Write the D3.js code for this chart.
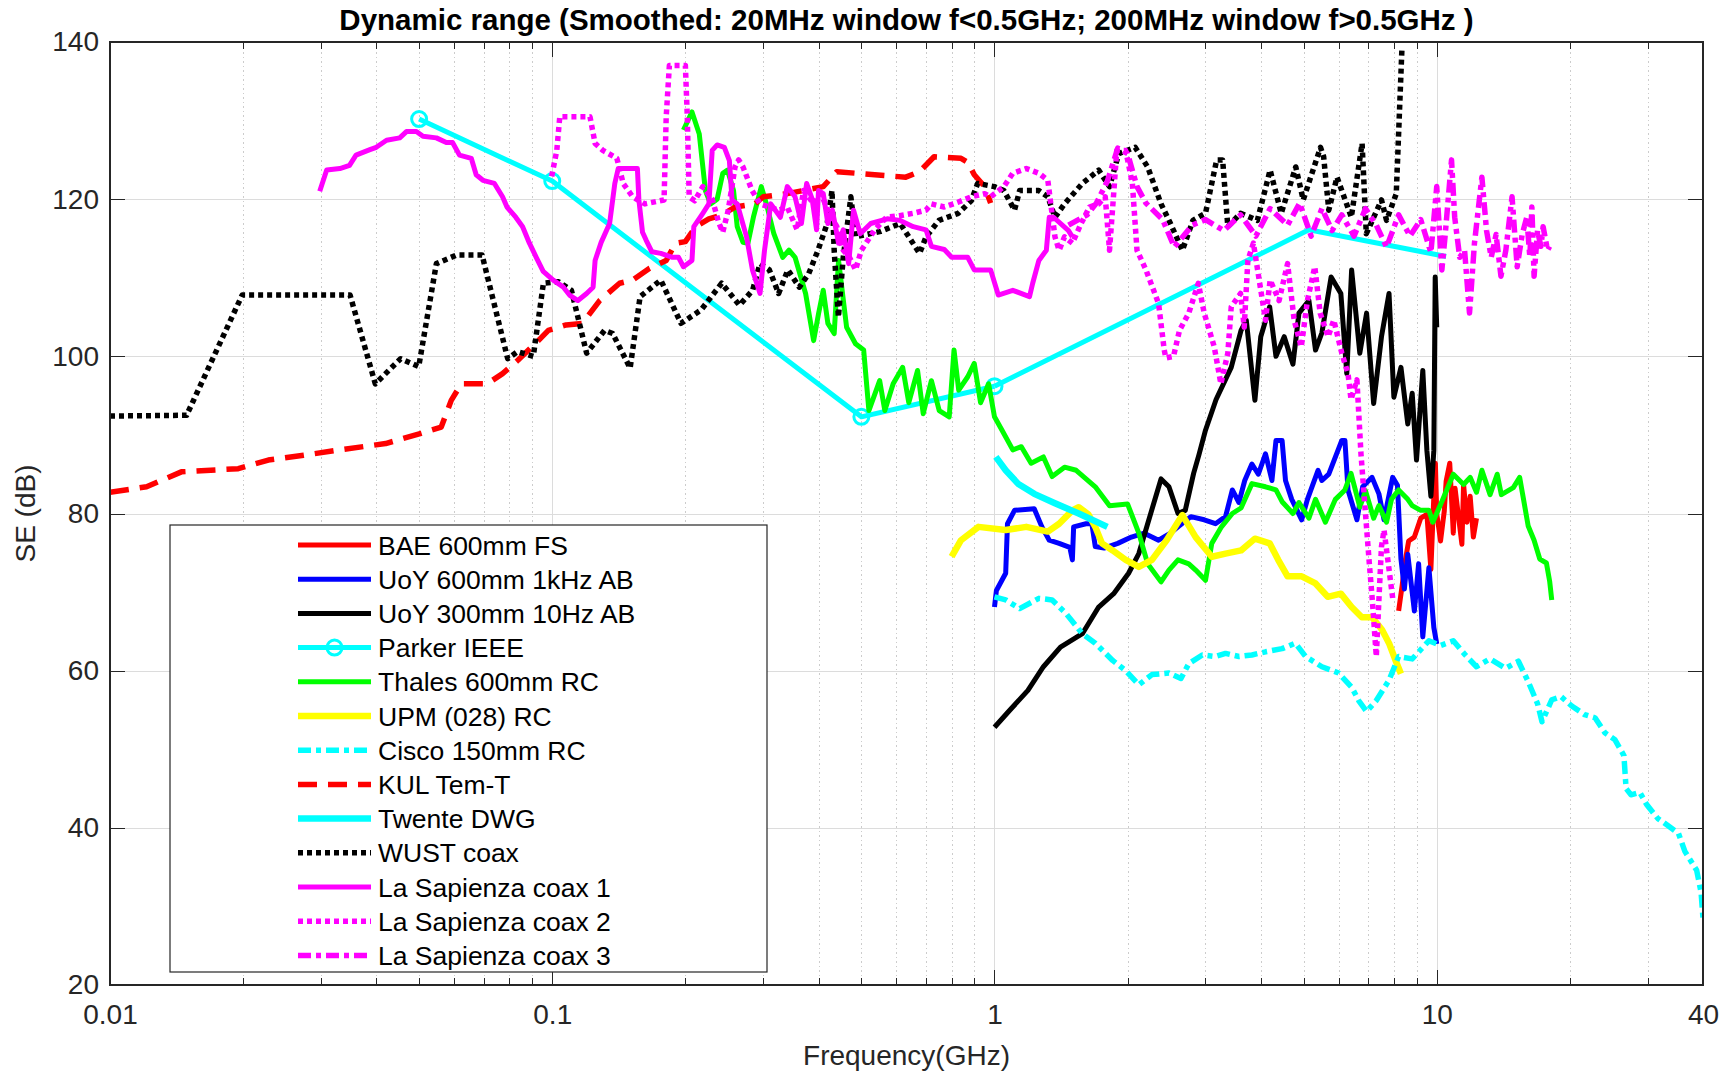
<!DOCTYPE html>
<html lang="en">
<head>
<meta charset="utf-8">
<title>Dynamic range</title>
<script src="https://d3js.org/d3.v7.min.js"></script>
<style>
    body {
        margin: 0;
        padding: 0;
        background-color: white;
    }
    svg {
        display: block;
        background-color: white;
        font-family: "Liberation Sans", Arial, Helvetica, sans-serif;
    }
    .title {
        font-size: 29.5px;
        font-weight: bold;
        fill: #000;
    }
    .axis text {
        font-size: 28px;
        fill: #262626;
    }
    .axis path {
        display: none;
    }
    .axis line {
        stroke: #262626;
        stroke-width: 1px;
        shape-rendering: crispEdges;
    }
    .grid path {
        display: none;
    }
    .grid line {
        stroke: #dcdcdc;
        stroke-width: 1px;
        shape-rendering: crispEdges;
    }
    .grid.minor line {
        stroke: #cccccc;
        stroke-dasharray: 1.5,3;
    }
    .label {
        font-size: 28px;
        fill: #262626;
    }
    .legend text {
        font-size: 26.5px;
        fill: #000;
    }
</style>
</head>
<body>
<div id="chart"></div>
<script>

// ---- data: [frequency GHz, SE dB] ----
var baeData = [[8.2,67.6],[8.35,70.8],[8.5,74.2],[8.64,76.5],[8.9,77],[9.2,79.4],[9.5,79.9],[9.7,72.9],[9.85,82.2],[9.93,86.4],
    [10.0,80],[10.2,76.5],[10.4,80.3],[10.5,84.1],[10.7,86.4],[10.9,77.5],[11.0,83.2],[11.4,76.1],[11.5,83.7],[11.7,78.9],
    [11.9,82.2],[12.1,77],[12.3,79.4]];

var uoy600Data = [[1.0,68.1],[1.01,70.2],[1.06,72.4],[1.07,78.7],[1.11,80.4],[1.23,80.6],[1.28,78.3],[1.33,76.6],[1.4,76.2],
    [1.48,75.7],[1.5,74.1],[1.51,78.3],[1.61,78.7],[1.66,78.7],[1.69,75.8],[1.77,75.6],[1.9,76.2],[2.04,77.0],[2.18,77.5],
    [2.35,76.6],[2.5,77.5],[2.6,78.3],[2.78,79.6],[2.98,79.2],[3.16,78.7],[3.33,79.6],[3.45,83],[3.57,81.4],[3.68,84.2],
    [3.82,86.3],[3.95,85],[4.1,87.6],[4.24,84.2],[4.33,89.3],[4.47,89.3],[4.55,84.2],[4.7,81.8],[4.95,79.2],[5.1,81.8],
    [5.39,85.5],[5.5,84.2],[5.7,85],[6.1,89.3],[6.2,89.3],[6.3,83],[6.6,79.2],[6.8,83.4],[7.14,84.6],[7.4,82.5],[7.6,79.2],
    [7.95,84.6],[8.15,83.6],[8.3,74.2],[8.45,70.4],[8.6,74.8],[8.9,67.6],[9.1,73.6],[9.3,64.3],[9.6,73.1],[9.85,65.5],[10.0,63.4]];

var uoy300Data = [[1.0,52.8],[1.08,54.9],[1.19,57.5],[1.29,60.5],[1.41,63.0],[1.58,64.7],[1.72,68.1],[1.86,69.8],[2.01,72.4],
    [2.12,74.9],[2.22,78.7],[2.38,84.4],[2.48,83.4],[2.6,80.0],[2.7,80.4],[2.82,85.1],[2.9,87.5],[3.0,90.6],[3.17,94.5],
    [3.43,98.6],[3.61,103.3],[3.71,104.6],[3.88,94.4],[4.0,102.5],[4.19,106.3],[4.33,100],[4.52,102.5],[4.73,99],[4.88,105.5],
    [5.14,107.1],[5.32,100.8],[5.5,103],[5.77,110.1],[6.07,108],[6.26,97.8],[6.42,111],[6.7,100.4],[6.94,105.5],[7.2,94],
    [7.5,102.5],[7.8,108],[8.0,94.8],[8.3,98.6],[8.6,91.4],[8.8,95.3],[9.0,86.8],[9.3,98.2],[9.5,88],[9.7,82.2],[9.85,88],
    [9.92,110.1],[10.0,103.7]];

// Parker: measured points (with markers) and the unmarked extension above 1 GHz
var parkerData = [[0.05,130.2],[0.1,122.3],[0.5,92.3],[1.0,96.2]];
var parkerExtData = [[1.0,96.2],[5.14,116.1],[10.5,112.7]];

var thalesData = [[0.198,128.8],[0.207,131.1],[0.215,128.3],[0.222,121.1],[0.228,119.4],[0.236,120],[0.243,123.3],[0.249,123.7],
    [0.257,121.1],[0.262,116.5],[0.27,114.5],[0.277,114.4],[0.285,117.7],[0.297,121.6],[0.305,119.4],[0.317,115.6],[0.332,112.6],
    [0.343,113.5],[0.354,112.6],[0.374,108],[0.39,102],[0.40,105.4],[0.41,108.4],[0.42,104.2],[0.434,102.9],[0.444,112.2],
    [0.463,103.7],[0.485,101.6],[0.506,100.8],[0.52,93.1],[0.55,96.9],[0.565,93.1],[0.59,96.5],[0.62,98.6],[0.64,94.1],
    [0.67,98.2],[0.69,92.7],[0.72,96.9],[0.75,93.1],[0.79,92.3],[0.81,100.8],[0.83,95.7],[0.87,97.4],[0.9,99.1],[0.93,94.1],
    [0.97,96.5],[1.0,92.3],[1.04,90.6],[1.1,88.1],[1.15,88.5],[1.21,86.4],[1.29,87.2],[1.35,84.7],[1.44,85.9],[1.53,85.5],
    [1.69,83.4],[1.82,81],[2.0,81.2],[2.12,77.5],[2.22,73.6],[2.38,71.3],[2.48,72.8],[2.6,74.1],[2.75,73.6],[2.85,72.8],
    [3.0,71.5],[3.1,76.2],[3.26,78.3],[3.45,80],[3.61,80.7],[3.82,83.8],[4.1,83.4],[4.33,83],[4.47,81.5],[4.73,80],[4.88,81.4],
    [5.14,79.4],[5.32,81.8],[5.6,78.9],[5.9,81.8],[6.2,83],[6.4,85.1],[6.7,80.8],[6.9,82.9],[7.2,79.4],[7.4,81],[7.7,78.9],
    [7.9,81.8],[8.2,83],[8.6,81.8],[8.8,81],[9.2,80.4],[9.6,80.4],[9.8,78.9],[10.3,81.7],[10.9,85],[11.5,83.7],[11.9,84.6],
    [12.3,82.7],[12.65,85.5],[13.2,82.4],[13.7,85],[14.0,82.4],[14.9,83.3],[15.4,84.6],[16.1,78.4],[16.6,76.6],[17.1,74.2],
    [17.7,73.7],[18.0,71.4],[18.2,69]];

var upmData = [[0.8,74.5],[0.84,76.6],[0.92,78.3],[1.06,77.9],[1.18,78.3],[1.32,77.7],[1.4,78.7],[1.5,80.4],[1.55,80.8],
    [1.63,79.9],[1.69,78.3],[1.75,76.2],[1.85,75.3],[1.98,74.1],[2.12,73.2],[2.27,74.1],[2.45,76.6],[2.66,79.8],[2.85,77],
    [3.1,74.5],[3.33,74.9],[3.61,75.3],[3.88,76.8],[4.19,76.2],[4.38,74.1],[4.6,72],[4.95,72],[5.32,71.1],[5.67,69.4],
    [6.07,69.8],[6.42,68.1],[6.77,66.8],[7.14,66.8],[7.52,65.2],[7.8,63.5],[8.07,61.3],[8.3,59.6]];

var ciscoData = [[1.0,69.4],[1.06,69.0],[1.14,67.9],[1.26,69.2],[1.35,69.0],[1.45,67.3],[1.58,64.7],[1.69,63.5],[1.85,61.3],
    [1.98,60.0],[2.12,58.2],[2.27,59.5],[2.48,59.7],[2.64,59.0],[2.75,60.9],[2.95,62.0],[3.16,61.8],[3.33,62.2],[3.57,61.8],
    [3.82,62.0],[4.1,62.4],[4.47,62.8],[4.79,63.5],[5.05,61.8],[5.5,60.5],[6.0,59.7],[6.42,57.9],[6.66,56.2],[6.94,54.8],
    [7.3,56.2],[7.8,58.8],[8.2,61.8],[8.8,61.5],[9.6,63.8],[10.2,63.2],[10.9,63.8],[11.6,62],[12.3,60.5],[13.2,61.5],
    [14.3,60.3],[15.3,61.2],[16.1,58.6],[16.9,55.8],[17.3,53.5],[18.2,56.3],[19.1,56.7],[20.2,55.5],[21.6,54.4],[22.8,54],
    [24.0,52.1],[25.3,51.2],[26.5,49.2],[26.8,45],[27.5,44.2],[28.8,44.5],[29.8,43],[31.6,41.2],[33.3,40.3],[35.2,39.3],
    [36.4,37],[38.7,34.6],[39.6,31.8],[40,28.5]];

var kulData = [[0.01,82.7],[0.0121,83.4],[0.0145,85.3],[0.0195,85.7],[0.0228,86.8],[0.0274,87.4],[0.0331,88.1],[0.042,88.9],
    [0.0505,90.2],[0.0561,91.0],[0.0591,94.4],[0.0623,96.5],[0.0713,96.5],[0.0772,97.8],[0.0836,99.5],[0.093,102.0],[0.098,103.3],
    [0.1075,104],[0.117,104.2],[0.128,107.1],[0.142,109.3],[0.152,109.7],[0.166,111.2],[0.181,112.2],[0.19,114.4],[0.2,114.6],
    [0.211,116.5],[0.226,117.5],[0.242,118],[0.259,119],[0.287,119.4],[0.30,120.3],[0.34,120.7],[0.41,121.6],[0.44,123.5],
    [0.536,123.1],[0.63,122.8],[0.677,123.5],[0.73,125.4],[0.84,125.2],[0.87,124.7],[0.90,123.1],[0.95,121.6],[0.98,119.5]];

var twenteData = [[1.007,87.2],[1.06,85.5],[1.13,83.8],[1.23,82.5],[1.37,81.3],[1.55,80],[1.80,78.3]];

var wustData = [[0.01,92.4],[0.0149,92.5],[0.0199,107.8],[0.0349,107.8],[0.0398,96.5],[0.0454,99.7],[0.0499,98.7],[0.0547,111.8],
    [0.0608,112.9],[0.0694,112.9],[0.0793,99.7],[0.0835,100.6],[0.0906,100],[0.0955,109.3],[0.1033,109.5],[0.1105,108.4],
    [0.1196,100.4],[0.1313,103.3],[0.137,102.9],[0.150,98.5],[0.158,107.6],[0.176,109.7],[0.1955,104.2],[0.217,105.9],
    [0.2416,109.3],[0.265,106.5],[0.2838,108.4],[0.295,111.8],[0.3097,111],[0.325,108],[0.341,111],[0.362,108.8],[0.38,110.5],
    [0.399,113.5],[0.4185,116.9],[0.4291,121.1],[0.434,113.5],[0.4437,105],[0.455,112.6],[0.4734,120.3],[0.485,115.2],
    [0.5528,115.9],[0.612,116.9],[0.677,113.1],[0.70,115.2],[0.749,117.3],[0.828,118.2],[0.886,119.8],[0.916,122],[0.999,121.6],
    [1.05,121.1],[1.11,118.6],[1.14,121.1],[1.259,121.1],[1.32,120.3],[1.37,117.7],[1.44,119.4],[1.58,122],[1.72,123.7],
    [1.82,121.6],[1.91,125.8],[2.08,126.6],[2.22,124.1],[2.38,119.4],[2.5,116.9],[2.66,113.5],[2.81,117.3],[3.0,118.2],
    [3.18,125],[3.28,125],[3.37,116.5],[3.6,118.2],[3.93,117.3],[4.2,123.7],[4.45,118.2],[4.8,124.1],[4.99,119.9],[5.46,126.6],
    [5.55,125.4],[5.7,118.6],[5.95,122.8],[6.41,117.7],[6.78,127.1],[6.93,115.6],[7.5,119.9],[7.7,117.3],[8.1,120.7],[8.34,139]];

var sapienza1Data = [[0.0298,121],[0.0309,123.7],[0.0331,123.9],[0.0348,124.3],[0.036,125.6],[0.0387,126.3],[0.04,126.6],
    [0.0422,127.5],[0.0452,127.8],[0.0468,128.6],[0.0493,128.6],[0.051,128],[0.0547,127.8],[0.0576,127.2],[0.0595,127.2],
    [0.0617,125.6],[0.0656,125.2],[0.0673,123.1],[0.0697,122.4],[0.074,122],[0.0772,120.3],[0.079,119],[0.0827,117.7],
    [0.0857,116.5],[0.0888,114.4],[0.092,112.6],[0.0954,110.8],[0.1005,109.7],[0.106,108.8],[0.1094,107.8],[0.1143,107.1],
    [0.1196,108],[0.1237,108.8],[0.125,112.2],[0.129,114.5],[0.1348,116.9],[0.1385,122],[0.141,123.9],[0.1558,123.9],
    [0.157,119.9],[0.16,115.8],[0.163,114.8],[0.168,113.3],[0.176,113.1],[0.187,112.6],[0.193,112.6],[0.198,111.4],
    [0.207,112.2],[0.209,116.5],[0.219,118.2],[0.226,119.4],[0.23,126.2],[0.236,126.9],[0.245,126.6],[0.2515,124.9],
    [0.255,119.9],[0.262,119.4],[0.275,115.2],[0.2836,111],[0.295,108],[0.302,113.5],[0.312,119.4],[0.328,117.7],[0.34,121.6],
    [0.354,120.3],[0.366,116.9],[0.376,122],[0.387,120],[0.396,116.1],[0.40,121.1],[0.41,120.7],[0.42,116.9],[0.43,118.6],
    [0.444,114.4],[0.455,116.1],[0.468,111.8],[0.48,118.6],[0.497,115.6],[0.525,116.9],[0.572,117.5],[0.612,117.3],
    [0.655,116.5],[0.70,116.1],[0.72,114],[0.77,113.6],[0.80,112.6],[0.87,112.6],[0.9,111],[0.98,111],[1.02,107.8],
    [1.1,108.4],[1.2,107.6],[1.22,109.3],[1.26,112.2],[1.31,113.5],[1.33,117.7],[1.36,117.7],[1.47,116],[1.5,115.2]];

var sapienza2Data = [[0.0997,122.9],[0.1024,126.2],[0.104,130.5],[0.1217,130.5],[0.125,127.1],[0.1302,126.2],[0.14,125.2],
    [0.1447,122],[0.152,120.3],[0.162,119.4],[0.179,119.9],[0.181,130.5],[0.184,137],[0.20,137],[0.202,130.5],[0.204,120.3],
    [0.21,119.8],[0.219,121.6],[0.23,120],[0.238,117],[0.243,115.8],[0.25,118.6],[0.259,124.1],[0.264,125],[0.27,124.1],
    [0.283,121.1],[0.295,119.4],[0.31,119],[0.325,118.6],[0.34,119],[0.358,116.1],[0.37,121.1],[0.39,119.4],[0.405,120.7],
    [0.42,118.6],[0.44,116.5],[0.455,113.5],[0.47,112.6],[0.485,111],[0.50,113.5],[0.536,116.1],[0.57,117.7],[0.61,117.9],
    [0.655,118.2],[0.70,118.6],[0.72,119.4],[0.77,119],[0.826,119.6],[0.886,120.3],[0.95,120.7],[0.98,120.3],[1.05,121.6],
    [1.1,123.3],[1.18,123.9],[1.26,123.3],[1.32,122.4],[1.37,115.2],[1.4,113.5],[1.44,115.2],[1.5,114.4],[1.57,116.9],
    [1.64,119],[1.72,119.4],[1.78,120.3],[1.82,113.5],[1.86,120.7],[1.89,126.2],[1.98,126.2],[2.05,122],[2.1,113.5],[2.2,111],
    [2.29,108.4],[2.35,106.7],[2.42,100.8],[2.44,99.8],[2.54,100],[2.62,103.3],[2.75,105.5],[2.89,109.3],[2.98,105.5],
    [3.14,101.2],[3.25,96.5],[3.37,100.4],[3.43,106.3],[3.6,108],[3.67,103.7],[3.74,112.2],[3.85,114.4],[4.1,104.6],[4.2,109.7],
    [4.4,107.1],[4.6,111.8],[4.76,104.6],[4.94,101.2],[5.1,107.1],[5.3,111.4],[5.45,105.5],[5.68,102.5],[5.85,104.6],
    [6.1,100.4],[6.3,97.8],[6.4,94.5],[6.6,97],[6.74,87.6],[6.9,80],[7.05,73.2],[7.15,69],[7.3,61.8],[7.4,69],[7.5,75.8],
    [7.6,77.9],[7.96,69]];

var sapienza3Data = [[1.47,116.7],[1.62,118],[1.7,119.5],[1.8,122.3],[1.9,126.5],[2.0,125.8],[2.1,121.6],[2.2,119.5],[2.4,117.4],
    [2.55,113.9],[2.8,116.7],[3.0,117.4],[3.3,116],[3.6,118],[3.9,115.3],[4.2,118.8],[4.6,116.7],[4.9,119.5],[5.2,115.3],
    [5.5,118.8],[5.8,116],[6.1,118],[6.5,115.3],[6.9,118.8],[7.3,116.7],[7.7,113.9],[8.2,118],[8.7,115.3],[9.2,117.4],
    [9.7,113.2],[10.0,121.6],[10.27,111],[10.44,115.2],[10.8,125],[10.98,117.7],[11.27,112.6],[11.56,113.5],[11.86,105.5],
    [12.17,114.4],[12.65,122.8],[12.96,116],[13.28,112.6],[13.62,115.5],[13.97,110.2],[14.33,113.5],[14.8,120.3],[15.2,111.4],
    [15.6,115.5],[15.98,117.7],[16.24,112.6],[16.41,119],[16.6,110.2],[16.9,116],[17.2,114],[17.4,116.5],[17.8,113.5],[18.0,114]];

// tick labels
var xTickValues = [0.01, 0.1, 1, 10, 40];
var xTickLabels = ["0.01", "0.1", "1", "10", "40"];
var yTickValues = [20, 40, 60, 80, 100, 120, 140];

var legendNames = ["BAE 600mm FS", "UoY 600mm 1kHz AB", "UoY 300mm 10Hz AB", "Parker IEEE", "Thales 600mm RC",
    "UPM (028) RC", "Cisco 150mm RC", "KUL Tem-T", "Twente DWG", "WUST coax", "La Sapienza coax 1",
    "La Sapienza coax 2", "La Sapienza coax 3"];

// ---- styling of each series (kept apart from the values) ----
var dotted = "5,4";
var dashed = "19,11";
var dashDot = "13,5,5,5";

var series = [
    {data: baeData,       color: "#ff0000", dash: null,    width: 5},
    {data: uoy600Data,    color: "#0000ff", dash: null,    width: 5},
    {data: uoy300Data,    color: "#000000", dash: null,    width: 5},
    {data: parkerData,    color: "#00ffff", dash: null,    width: 5, marker: true, ext: parkerExtData},
    {data: thalesData,    color: "#00ff00", dash: null,    width: 5},
    {data: upmData,       color: "#ffff00", dash: null,    width: 6.5},
    {data: ciscoData,     color: "#00ffff", dash: dashDot, width: 5.5},
    {data: kulData,       color: "#ff0000", dash: dashed,  width: 5.5},
    {data: twenteData,    color: "#00ffff", dash: null,    width: 6.5},
    {data: wustData,      color: "#000000", dash: dotted,  width: 5.5},
    {data: sapienza1Data, color: "#ff00ff", dash: null,    width: 5},
    {data: sapienza2Data, color: "#ff00ff", dash: dotted,  width: 5.5},
    {data: sapienza3Data, color: "#ff00ff", dash: dashDot, width: 5.5}
];
series.forEach(function(s, i){ s.name = legendNames[i]; });

// ---- layout ----
var width = 1721;
var height = 1072;
var plot = {left: 110, right: 1703, top: 42, bottom: 985};
var markerR = 7.5;

var svg = d3.select("#chart")
    .append("svg")
    .attr("width", width)
    .attr("height", height);

var x = d3.scaleLog()
    .domain([0.01, 40])
    .range([plot.left, plot.right]);

var y = d3.scaleLinear()
    .domain([20, 140])
    .range([plot.bottom, plot.top]);

var plotH = plot.bottom - plot.top;
var plotW = plot.right - plot.left;

// minor log ticks between the decades
var minorX = [];
[0.01, 0.1, 1, 10].forEach(function(dec){
    for (var k = 2; k <= 9; k++) {
        var v = dec * k;
        if (v < 40) minorX.push(v);
    }
});
var majorGridX = [0.1, 1, 10];

// grid lines
svg.append("g")
    .attr("class", "grid minor")
    .attr("transform", "translate(0," + plot.bottom + ")")
    .call(d3.axisBottom(x).tickValues(minorX).tickSize(-plotH).tickFormat(""));

svg.append("g")
    .attr("class", "grid")
    .attr("transform", "translate(0," + plot.bottom + ")")
    .call(d3.axisBottom(x).tickValues(majorGridX).tickSize(-plotH).tickFormat(""));

svg.append("g")
    .attr("class", "grid")
    .attr("transform", "translate(" + plot.left + ",0)")
    .call(d3.axisLeft(y).tickValues(yTickValues.slice(1, -1)).tickSize(-plotW).tickFormat(""));

// data lines
svg.append("clipPath")
    .attr("id", "plotClip")
    .append("rect")
    .attr("x", plot.left)
    .attr("y", plot.top - 2)
    .attr("width", plotW)
    .attr("height", plotH + 2);

var lineGen = d3.line()
    .x(function(d){ return x(d[0]); })
    .y(function(d){ return y(d[1]); });

var lines_g = svg.append("g").attr("clip-path", "url(#plotClip)");

function drawLine(data, s) {
    lines_g.append("path")
        .datum(data)
        .attr("d", lineGen)
        .attr("fill", "none")
        .attr("stroke", s.color)
        .attr("stroke-width", s.width)
        .attr("stroke-linejoin", "round")
        .attr("stroke-dasharray", s.dash);
}

series.forEach(function(s){
    drawLine(s.data, s);
    if (s.ext) drawLine(s.ext, s);

    if (s.marker) {
        lines_g.selectAll(null)
            .data(s.data)
            .enter()
            .append("circle")
            .attr("cx", function(d){ return x(d[0]); })
            .attr("cy", function(d){ return y(d[1]); })
            .attr("r", markerR)
            .attr("fill", "none")
            .attr("stroke", s.color)
            .attr("stroke-width", 3);
    }
});

// axes box + ticks (MATLAB style, ticks pointing in)
svg.append("rect")
    .attr("x", plot.left)
    .attr("y", plot.top)
    .attr("width", plotW)
    .attr("height", plotH)
    .attr("fill", "none")
    .attr("stroke", "#262626")
    .attr("stroke-width", 1.2)
    .attr("shape-rendering", "crispEdges");

svg.append("g")
    .attr("class", "axis")
    .attr("transform", "translate(0," + plot.bottom + ")")
    .call(d3.axisBottom(x).tickValues(xTickValues).tickSize(-15).tickPadding(19)
        .tickFormat(function(d, i){ return xTickLabels[i]; }));

svg.append("g")
    .attr("class", "axis")
    .attr("transform", "translate(0," + plot.bottom + ")")
    .call(d3.axisBottom(x).tickValues(minorX).tickSize(-7).tickFormat(""));

svg.append("g")
    .attr("class", "axis")
    .attr("transform", "translate(0," + plot.top + ")")
    .call(d3.axisTop(x).tickValues(majorGridX).tickSize(-15).tickFormat(""));

svg.append("g")
    .attr("class", "axis")
    .attr("transform", "translate(0," + plot.top + ")")
    .call(d3.axisTop(x).tickValues(minorX).tickSize(-7).tickFormat(""));

svg.append("g")
    .attr("class", "axis")
    .attr("transform", "translate(" + plot.left + ",0)")
    .call(d3.axisLeft(y).tickValues(yTickValues).tickSize(-15).tickPadding(11));

svg.append("g")
    .attr("class", "axis")
    .attr("transform", "translate(" + plot.right + ",0)")
    .call(d3.axisRight(y).tickValues(yTickValues).tickSize(-15).tickFormat(""));

// title and axis labels
svg.append("text")
    .attr("class", "title")
    .attr("x", (plot.left + plot.right) / 2)
    .attr("y", 30)
    .attr("text-anchor", "middle")
    .text("Dynamic range (Smoothed: 20MHz window f<0.5GHz; 200MHz window f>0.5GHz )");

svg.append("text")
    .attr("class", "label")
    .attr("x", (plot.left + plot.right) / 2)
    .attr("y", 1065)
    .attr("text-anchor", "middle")
    .text("Frequency(GHz)");

svg.append("text")
    .attr("class", "label")
    .attr("transform", "translate(35," + ((plot.top + plot.bottom) / 2) + ") rotate(-90)")
    .attr("text-anchor", "middle")
    .text("SE (dB)");

// legend
var legend = svg.append("g").attr("class", "legend");
legend.append("rect")
    .attr("x", 170)
    .attr("y", 525)
    .attr("width", 597)
    .attr("height", 447)
    .attr("fill", "white")
    .attr("stroke", "#262626")
    .attr("stroke-width", 1.2);

var rowH = 34.2;
var row = legend.selectAll(".row")
    .data(series)
    .enter()
    .append("g")
    .attr("class", "row")
    .attr("transform", function(d, i){ return "translate(0," + (545 + i * rowH) + ")"; });

row.append("line")
    .attr("x1", 298)
    .attr("x2", 371)
    .attr("stroke", function(d){ return d.color; })
    .attr("stroke-width", function(d){ return d.width; })
    .attr("stroke-dasharray", function(d){ return d.dash; });

row.filter(function(d){ return d.marker; })
    .append("circle")
    .attr("cx", 334.5)
    .attr("r", markerR)
    .attr("fill", "none")
    .attr("stroke", function(d){ return d.color; })
    .attr("stroke-width", 3);

row.append("text")
    .attr("x", 378)
    .attr("dy", "0.36em")
    .text(function(d){ return d.name; });

</script>
</body>
</html>
